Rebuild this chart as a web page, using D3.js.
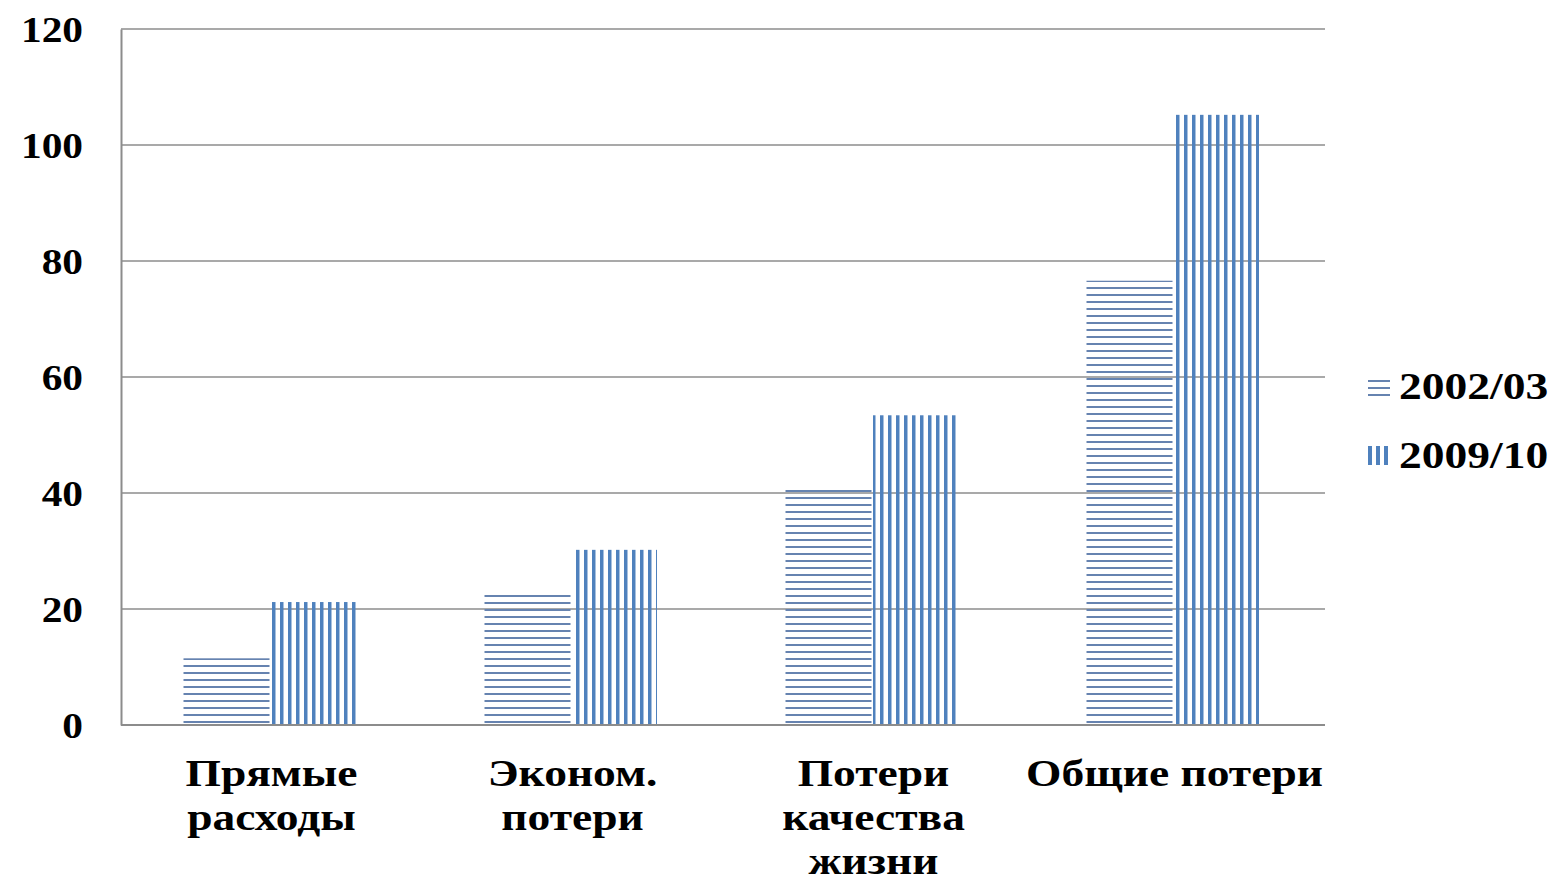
<!DOCTYPE html>
<html>
<head>
<meta charset="utf-8">
<script src="https://cdn.jsdelivr.net/npm/d3@7"></script>
<style>
  html, body { margin: 0; padding: 0; background: #fff; }
  svg text { font-family: "Liberation Serif", "Times New Roman", serif; font-weight: bold; fill: #000; }
</style>
</head>
<body>
<svg id="chart" width="1555" height="883"></svg>
<script>
// Categories (multi-line labels) and series values
const categories = [
  ["Прямые", "расходы"],
  ["Эконом.", "потери"],
  ["Потери", "качества", "жизни"],
  ["Общие потери"]
];
const seriesNames = ["2002/03", "2009/10"];
const values2002 = [11.5, 22.6, 40.9, 76.6];
const values2009 = [21.2, 30.2, 53.4, 105.2];
const yTicks = [0, 20, 40, 60, 80, 100, 120];

const svg = d3.select("#chart");
const margin = { left: 121, right: 230, top: 29, bottom: 158 };
const W = 1555, H = 883;
const x0 = margin.left, x1 = W - margin.right;
const y0 = H - margin.bottom, y1 = margin.top;

const y = d3.scaleLinear().domain([0, 120]).range([y0, y1]);
const xCat = d3.scaleBand().domain(d3.range(categories.length)).range([x0, x1]).paddingInner(0).paddingOuter(0);
// bars take 2 of 3.5 bar-widths per category (gap 150%)
const barW = xCat.bandwidth() / 3.5;

// stripe patterns
const defs = svg.append("defs");
const pH = defs.append("pattern").attr("id", "hstripe")
  .attr("patternUnits", "userSpaceOnUse").attr("width", 8).attr("height", 7);
pH.append("rect").attr("x", 0).attr("y", 0).attr("width", 8).attr("height", 2).attr("fill", "#6683b0");
const pV = defs.append("pattern").attr("id", "vstripe")
  .attr("patternUnits", "userSpaceOnUse").attr("width", 8).attr("height", 8);
pV.append("rect").attr("x", 0).attr("y", 0).attr("width", 3.5).attr("height", 8).attr("fill", "#4f81bd");

// gridlines
svg.append("g").selectAll("line").data(yTicks.filter(d => d > 0)).join("line")
  .attr("x1", x0).attr("x2", x1)
  .attr("y1", d => y(d)).attr("y2", d => y(d))
  .attr("stroke", "#8c8c8c").attr("stroke-width", 1.5);

// y axis
const yAxis = d3.axisLeft(y).tickValues(yTicks).tickSize(0).tickPadding(38);
const gy = svg.append("g").attr("transform", `translate(${x0},0)`).call(yAxis);
gy.select(".domain").attr("stroke", "#8c8c8c").attr("stroke-width", 2);
gy.selectAll("text").style("font-size", "36px").attr("font-family", null)
  .attr("transform", "scale(1.15,1)").attr("dy", "0.35em")
  .attr("x", -38 / 1.15);

// bars
const series = [
  { name: seriesNames[0], values: values2002, fill: "url(#hstripe)" },
  { name: seriesNames[1], values: values2009, fill: "url(#vstripe)" }
];
series.forEach((s, si) => {
  svg.append("g").selectAll("rect").data(s.values).join("rect")
    .attr("x", (d, i) => xCat(i) + barW * 0.75 + si * barW + (si === 1 ? 1.5 : 0) - 2)
    .attr("y", d => y(d))
    .attr("width", barW - (si === 1 ? 1 : 0))
    .attr("height", d => y0 - y(d))
    .attr("fill", s.fill);
});

// x axis baseline
svg.append("line").attr("x1", x0).attr("x2", x1).attr("y1", y0).attr("y2", y0)
  .attr("stroke", "#8c8c8c").attr("stroke-width", 2);

// category labels
const catG = svg.append("g");
categories.forEach((lines, i) => {
  const cx = xCat(i) + xCat.bandwidth() / 2;
  const t = catG.append("text")
    .attr("text-anchor", "middle")
    .attr("transform", `translate(${cx},786) scale(1.23,1)`)
    .style("font-size", "37px");
  lines.forEach((ln, k) => {
    t.append("tspan").attr("x", 0).attr("y", k * 44).text(ln);
  });
});

// legend
const leg = svg.append("g");
const legY = [386, 455];
// 2002/03 swatch: horizontal lines
leg.append("g").selectAll("rect").data([0, 1, 2]).join("rect")
  .attr("x", 1368).attr("y", k => legY[0] - 6 + k * 7).attr("width", 22).attr("height", 2)
  .attr("fill", "#6683b0");
// 2009/10 swatch: vertical stripes
leg.append("g").selectAll("rect").data([0, 1, 2]).join("rect")
  .attr("x", k => 1368 + k * 8).attr("y", legY[1] - 9).attr("width", 4).attr("height", 19)
  .attr("fill", "#4f81bd");
seriesNames.forEach((n, i) => {
  leg.append("text")
    .attr("transform", `translate(1399,${legY[i]}) scale(1.23,1)`)
    .attr("dy", "0.35em")
    .style("font-size", "37px")
    .text(n);
});
</script>
</body>
</html>
